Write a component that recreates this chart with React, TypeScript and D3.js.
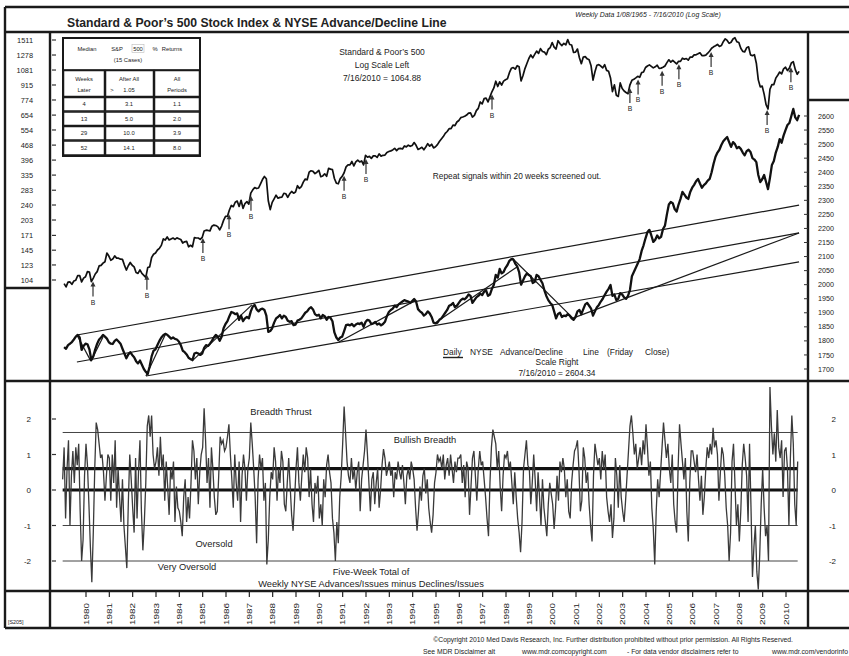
import { useEffect, useRef } from 'react'
import * as d3 from 'd3'

// S&P 500 monthly closes, Jan 1979 - Jul 2010 (a few weekly lows kept where the chart shows them)
const firstYear = 1979
const spxValues = [
  99.9, 96.3, 101.6, 101.8, 99.1, 102.9, 103.8, 109.3, 109.3, 101.8, 106.2, 107.9,
  114.2, 113.7, 102.1, 106.3, 111.2, 114.2, 121.7, 122.4, 125.5, 127.5, 140.5, 135.8,
  129.6, 131.3, 136.0, 132.8, 132.6, 131.2, 130.9, 122.8, 116.2, 121.9, 126.4, 122.6,
  120.4, 113.1, 112.0, 116.4, 111.9, 109.6, 107.1, 119.5, 120.4, 133.7, 138.5, 140.6,
  145.3, 148.1, 153.0, 164.4, 162.4, 168.1, 162.6, 164.4, 166.1, 163.6, 166.4, 164.9,
  163.4, 157.1, 159.2, 160.1, 150.6, 153.2, 150.7, 166.7, 166.1, 166.1, 163.6, 167.2,
  179.6, 181.2, 180.7, 179.8, 189.6, 191.9, 190.9, 188.6, 182.1, 189.8, 202.2, 211.3,
  211.8, 226.9, 238.9, 235.5, 247.4, 250.8, 236.1, 252.9, 231.3, 244.0, 249.2, 242.2,
  274.1, 284.2, 291.7, 288.4, 290.1, 304.0, 318.7, 329.8, 321.8, 251.8, 228.0, 247.1,
  257.1, 267.8, 258.9, 261.3, 262.2, 273.5, 272.0, 261.5, 271.9, 279.0, 273.7, 277.7,
  297.5, 288.9, 294.9, 309.6, 320.5, 318.0, 346.1, 351.5, 349.2, 340.4, 346.0, 353.4,
  329.1, 331.9, 339.9, 330.8, 361.2, 358.0, 356.2, 322.6, 306.1, 304.0, 322.2, 330.2,
  343.9, 367.1, 375.2, 375.3, 389.8, 371.2, 387.8, 395.4, 387.9, 392.5, 375.2, 417.1,
  408.8, 412.7, 403.7, 415.0, 415.4, 408.1, 424.2, 414.0, 417.8, 418.7, 431.4, 435.7,
  438.8, 443.4, 451.7, 440.2, 450.2, 451.0, 448.1, 463.6, 458.9, 467.8, 461.8, 466.5,
  481.6, 467.1, 445.8, 450.9, 456.5, 444.3, 458.3, 475.5, 462.7, 472.4, 453.7, 459.3,
  470.4, 487.4, 500.7, 514.7, 533.4, 544.8, 562.1, 561.9, 584.4, 581.5, 605.4, 615.9,
  636.0, 640.4, 645.5, 654.2, 669.1, 670.6, 640.0, 652.0, 687.3, 705.3, 757.0, 740.7,
  786.2, 790.8, 757.1, 801.3, 848.3, 885.1, 954.3, 899.5, 947.3, 914.6, 955.4, 970.4,
  980.3, 1049.3, 1101.8, 1111.8, 1090.8, 1133.8, 1120.7, 957.3, 1017.0, 1098.7, 1163.6, 1229.2,
  1279.6, 1238.3, 1286.4, 1335.2, 1301.8, 1372.7, 1328.7, 1320.4, 1282.7, 1362.9, 1388.9, 1469.3,
  1394.5, 1366.4, 1498.6, 1452.4, 1420.6, 1454.6, 1430.8, 1517.7, 1436.5, 1429.4, 1315.2, 1320.3,
  1366.0, 1239.9, 1160.3, 1249.5, 1255.8, 1224.4, 1211.2, 1133.6, 966.0, 1059.8, 1139.5, 1148.1,
  1130.2, 1106.7, 1147.4, 1076.9, 1067.1, 989.8, 850.0, 916.1, 815.3, 805.0, 936.3, 879.8,
  855.7, 841.2, 830.0, 916.9, 963.6, 974.5, 990.3, 1008.0, 996.0, 1050.7, 1058.2, 1111.9,
  1131.1, 1144.9, 1126.2, 1107.3, 1120.7, 1140.8, 1101.7, 1104.2, 1114.6, 1130.2, 1173.8, 1211.9,
  1181.3, 1203.6, 1180.6, 1156.9, 1191.5, 1191.3, 1234.2, 1220.3, 1228.8, 1207.0, 1249.5, 1248.3,
  1280.1, 1280.7, 1294.9, 1310.6, 1270.1, 1270.2, 1276.7, 1303.8, 1335.9, 1377.9, 1400.6, 1418.3,
  1438.2, 1406.8, 1420.9, 1482.4, 1530.6, 1503.4, 1455.3, 1474.0, 1526.8, 1549.4, 1481.1, 1468.4,
  1378.6, 1330.6, 1322.7, 1385.6, 1400.4, 1280.0, 1267.4, 1282.8, 1166.4, 968.8, 896.2, 903.3,
  825.9, 735.1, 700.0, 872.8, 919.1, 919.3, 987.5, 1020.6, 1057.1, 1036.2, 1095.6, 1115.1,
  1073.9, 1104.5, 1169.4, 1186.7, 1089.4, 1030.7, 1064.88,
]

// NYSE advance/decline line, monthly readings off the right scale
const adValues = [
  1778, 1772, 1785, 1790, 1796, 1805, 1815, 1821, 1812, 1768, 1782, 1790,
  1788, 1770, 1732, 1745, 1770, 1790, 1805, 1812, 1821, 1815, 1808, 1795,
  1790, 1789, 1800, 1805, 1798, 1790, 1772, 1755, 1738, 1752, 1760, 1750,
  1742, 1728, 1720, 1730, 1715, 1700, 1690, 1682, 1710, 1745, 1765, 1770,
  1785, 1800, 1812, 1820, 1825, 1822, 1815, 1808, 1812, 1807, 1805, 1798,
  1785, 1765, 1760, 1752, 1740, 1735, 1732, 1755, 1758, 1755, 1750, 1755,
  1775, 1785, 1782, 1790, 1800, 1812, 1821, 1815, 1800, 1815, 1845, 1860,
  1870, 1888, 1903, 1900, 1895, 1898, 1875, 1890, 1870, 1880, 1885, 1880,
  1905, 1922, 1928, 1912, 1905, 1912, 1915, 1910, 1890, 1832, 1835, 1845,
  1865, 1880, 1885, 1892, 1880, 1890, 1885, 1872, 1868, 1870, 1856, 1858,
  1872, 1875, 1880, 1890, 1900, 1905, 1915, 1920, 1912, 1895, 1890, 1893,
  1880, 1892, 1888, 1875, 1885, 1882, 1870, 1830, 1812, 1803, 1812, 1815,
  1835, 1856, 1858, 1855, 1860, 1852, 1858, 1862, 1860, 1865, 1850, 1867,
  1875, 1872, 1860, 1862, 1867, 1858, 1862, 1855, 1860, 1868, 1888, 1903,
  1910, 1915, 1925, 1920, 1930, 1935, 1940, 1945, 1942, 1940, 1935, 1942,
  1949, 1940, 1913, 1905, 1900, 1890, 1895, 1905, 1898, 1885, 1865, 1862,
  1865, 1875, 1880, 1890, 1900, 1910, 1925, 1928, 1935, 1920, 1925, 1935,
  1945, 1950, 1948, 1955, 1965, 1960, 1935, 1945, 1955, 1960, 1968, 1963,
  1975, 1980, 1960, 1965, 1985, 2000, 2035, 2025, 2056, 2040, 2045, 2060,
  2070, 2085, 2091, 2090, 2075, 2065, 2045, 2000, 2015, 2030, 2040, 2034,
  2030, 2006, 2010, 2035, 2030, 2017, 2005, 1980, 1960, 1945, 1935, 1928,
  1905, 1880, 1896, 1900, 1885, 1890, 1888, 1895, 1890, 1880, 1875, 1885,
  1905, 1910, 1895, 1913, 1930, 1935, 1925, 1915, 1890, 1905, 1920, 1928,
  1940, 1950, 1963, 1975, 1985, 1999, 1960, 1965, 1945, 1950, 1970, 1965,
  1955, 1950, 1960, 1981, 2030, 2045, 2060, 2075, 2091, 2120, 2140, 2165,
  2187, 2195, 2175, 2152, 2160, 2175, 2165, 2170, 2198, 2210, 2250, 2285,
  2294, 2290, 2269, 2260, 2285, 2305, 2330, 2320, 2310, 2305, 2330, 2345,
  2355, 2368, 2376, 2360, 2345, 2354, 2360, 2370, 2376, 2400, 2430, 2455,
  2470, 2480, 2497, 2510, 2518, 2525, 2507, 2490, 2507, 2500, 2485, 2490,
  2483, 2470, 2460, 2475, 2480, 2472, 2450, 2445, 2436, 2390, 2365, 2375,
  2390, 2365, 2340, 2380, 2426, 2440, 2470, 2490, 2518, 2505, 2530, 2550,
  2568, 2575, 2600, 2625, 2595, 2585, 2604.34,
]

// five-week total of weekly (advances - declines) / issues, 16 readings a year
const breadthPerYear = 16
const breadthValues = [
  0.3, 1.2, -0.8, 0.6, 1.4, -1.0, 0.4, 1.1, 0.2, 1.2, 0.7, 1.3, -0.6, -2.0, -1.4, 0.4,
  1.3, 0.7, -0.4, -1.6, -2.6, -1.2, 0.6, 1.9, 1.7, 1.3, 0.9, 1.0, 0.5, -0.3, 0.4, 1.0,
  0.9, -0.3, 1.0, 0.2, 1.4, -0.5, 0.6, -0.2, -0.9, 0.3, -1.0, -1.6, -2.2, -0.4, 1.0, 0.3,
  -0.5, -1.2, 0.9, -0.8, 0.5, 1.4, -0.6, -1.7, -0.9, 0.2, 1.8, 2.1, 1.5, 2.1, 1.0, 0.6,
  0.8, 1.2, 0.4, 1.5, 0.6, 1.0, -0.3, 0.8, 0.1, -0.7, 0.6, 0.3, 0.8, -0.9, 0.1, -0.5,
  -0.6, -0.9, -1.3, -0.2, 0.3, -0.9, -0.2, -0.8, 0.2, 1.4, 1.1, 0.3, 0.9, -0.4, 0.5, 1.0,
  1.2, 2.3, 1.4, 0.2, 0.9, -0.5, 1.2, 0.6, -0.2, -0.7, -0.6, 0.4, 1.5, 1.3, 1.4, 1.1,
  1.2, 1.5, 1.85, 1.0, 0.3, -0.5, 1.0, 0.2, -0.3, 0.8, -0.9, 0.4, 1.0, 0.6, -0.3, 0.6,
  0.9, 1.9, 1.3, 0.6, -0.2, -1.5, 0.3, 1.0, 0.6, 0.9, -0.3, 0.2, -2.1, -1.4, -0.2, 0.5,
  0.3, 1.2, 0.8, -0.3, 0.6, 0.2, 1.1, 0.8, -0.4, -0.6, 0.2, 0.9, 0.1, -0.7, -1.15, -0.3,
  0.6, 1.2, 0.2, -0.3, 0.4, 1.0, 0.5, 1.2, 0.9, -0.2, 0.6, -0.4, -0.9, 0.2, -0.1, 0.4,
  -0.8, -0.4, -1.0, 0.3, -0.2, 0.7, 1.0, 0.5, 0.2, -0.8, -1.2, -2.0, -0.9, -1.5, -0.2, 0.4,
  1.3, 2.35, 1.6, 0.8, 0.4, 0.2, 0.9, 0.3, 0.6, 0.0, 0.5, 0.8, -0.6, 0.3, 0.7, 1.1,
  1.7, 1.0, 0.2, -0.6, 0.3, 0.5, -0.4, 0.2, 0.6, -0.5, 0.0, 0.7, 1.15, 0.9, 0.4, 0.6,
  0.8, 0.4, 0.6, -0.2, 0.5, 0.3, 0.8, 0.5, 0.3, 0.7, 0.2, -0.4, 0.4, 0.6, 0.3, 0.8,
  0.6, 0.3, -0.5, -1.15, -0.6, 0.1, -0.3, 0.4, 0.6, -0.1, 0.3, -0.5, -0.9, -1.2, -0.7, 0.2,
  0.5, 1.0, 0.8, 0.9, 0.6, 1.0, 0.3, 0.7, 0.9, 0.4, 1.0, 0.6, 0.2, 0.8, 0.5, 0.9,
  0.9, 1.0, 0.2, 0.7, -0.2, 0.8, 0.6, -0.7, 0.1, 0.9, 1.1, 0.4, -0.3, 0.6, 1.1, 0.7,
  0.8, 0.3, -0.2, -0.8, -1.3, 0.2, 1.2, 1.7, 1.5, 1.3, 0.6, 1.1, 0.1, -0.6, 0.4, 1.0,
  0.9, 1.1, 0.6, 0.8, 0.2, -0.4, 0.5, -0.2, -0.8, -1.2, -1.75, -0.9, 0.6, 1.0, 1.4, 0.7,
  0.6, -0.4, 0.2, 1.0, 0.3, -0.6, 0.5, -0.2, -1.0, 0.3, -0.5, -0.9, -1.3, -0.4, 0.2, -0.1,
  -0.4, -1.1, -0.5, 0.4, -0.3, 0.8, 0.5, 0.9, 0.6, -0.2, 0.3, -0.6, -0.8, 0.2, 0.7, 1.1,
  1.2, 1.4, 0.6, -0.6, -0.3, 1.2, 0.9, 0.2, 0.5, -0.4, -1.0, -1.45, 0.4, 1.3, 1.0, 0.7,
  0.9, 0.3, 1.1, 0.6, 1.0, -0.2, -0.6, -0.9, -0.4, -1.35, -0.8, 0.9, 0.4, -0.5, 0.7, -0.2,
  -0.6, -0.9, -0.3, 0.4, 1.1, 1.8, 2.1, 1.6, 1.0, 1.3, 0.6, 0.9, 1.2, 0.7, 1.4, 1.0,
  1.85, 1.2, 0.4, 0.8, -0.5, -1.1, -2.1, -0.6, 0.3, -0.2, 0.5, 1.2, 1.9, 1.4, 0.9, 1.3,
  0.6, 0.2, 1.0, -0.4, -0.9, -1.2, 0.6, 1.85, 1.3, 0.8, 0.3, 0.9, -0.6, -1.45, 0.2, 1.1,
  1.1, 0.8, 0.5, 1.0, 0.3, -0.3, 0.4, -0.7, -0.2, 0.6, 1.2, 0.9, 1.3, 1.0, 1.75, 1.2,
  1.4, 1.0, -0.3, 0.5, 1.2, 1.0, 0.4, -0.5, -1.0, -2.0, -1.2, 0.8, 1.3, 0.2, -1.0, -0.4,
  -1.45, -0.6, 0.7, 1.3, 0.9, 0.4, -0.9, 1.3, -0.5, -2.45, -1.6, -1.0, -2.3, -2.8, -1.8, -0.4,
  0.6, -0.5, -1.3, -1.0, -2.0, 2.9, 1.8, 1.0, 1.6, 0.8, 2.25, 1.2, 0.9, 1.4, -0.2, 1.1,
  1.2, 0.6, -1.0, 0.9, 2.1, 1.3, -0.4, -1.0, 0.8,
]

// weeks with a breadth-thrust buy signal
const buySignals = [1980.30, 1982.61, 1985.01, 1986.13, 1987.07, 1991.06, 1992.0, 1997.40, 2003.31, 2003.66, 2004.69, 2005.41, 2006.79, 2009.19, 2010.21]

// A/D channel and trend lines: [from year, from value, to year, to value]
const adTrendLines = [
  [1979.61, 1821, 2010.56, 2283],
  [1979.61, 1725, 2010.56, 2184],
  [1982.57, 1675, 2010.56, 2081],
  [2000.87, 1881, 2010.56, 2184],
  [1998.26, 2095, 2000.87, 1881],
  [1994.96, 1864, 1998.47, 2063],
  [1990.84, 1796, 1994.14, 1945],
  [1979.61, 1821, 1980.21, 1728],
  [1980.21, 1728, 1980.73, 1814],
  [1982.57, 1675, 1983.43, 1828],
  [1984.54, 1728, 1987.11, 1928],
]

const spxTicks = [1511, 1278, 1081, 915, 774, 654, 554, 468, 396, 335, 283, 240, 203, 171, 145, 123, 104]
const adTicks = [2600, 2550, 2500, 2450, 2400, 2350, 2300, 2250, 2200, 2150, 2100, 2050, 2000, 1950, 1900, 1850, 1800, 1750, 1700]
const breadthTicks = [2, 1, 0, -1, -2]
const breadthLevels = [1.62, 0.6, 0, -1, -2]
const yearTicks = d3.range(1980, 2011)

const tableRows = [
  ['4', '3.1', '1.1'],
  ['13', '5.0', '2.0'],
  ['29', '10.0', '3.9'],
  ['52', '14.1', '8.0'],
]

const FONT = '"Liberation Sans", Arial, Helvetica, sans-serif'

export default function App() {
  const svgRef = useRef<SVGSVGElement>(null)

  useEffect(() => {
    const svg = d3.select(svgRef.current)
    svg.selectAll('*').remove()

    svg.attr('width', 849).attr('height', 656).style('font-family', FONT)
    svg.append('rect').attr('width', 849).attr('height', 656).attr('fill', '#fff')

    // Scales
    const x = d3.scaleLinear().domain([1980, 2010]).range([86, 786])
    const ySpx = d3.scaleLog().domain([104, 1511]).range([280, 40])
    const yAd = d3.scaleLinear().domain([1700, 2600]).range([369, 116])
    const yBr = d3.scaleLinear().domain([-2, 2]).range([561, 419])

    const monthT = (i: number) => firstYear + (i + 0.75) / 12
    const breadthT = (i: number) => firstYear + i / breadthPerYear

    const spxAt = (t: number) => {
      const f = (t - firstYear) * 12 - 0.75
      const i = Math.max(0, Math.min(spxValues.length - 2, Math.floor(f)))
      const r = f - i
      return spxValues[i] * (1 - r) + spxValues[i + 1] * r
    }

    const text = (tx: number, ty: number, str: string, size: number, anchor = 'start') =>
      svg.append('text')
        .attr('x', tx)
        .attr('y', ty)
        .attr('font-size', size)
        .attr('text-anchor', anchor)
        .attr('fill', '#222')
        .text(str)

    // Frame
    const frame = [
      [5, 7, 849, 7], [5, 32, 849, 32], [5, 381, 849, 381], [5, 591, 849, 591], [5, 628, 849, 628],
      [5, 7, 5, 628], [50, 32, 50, 628], [808, 32, 808, 628], [5, 288, 50, 288], [808, 100, 849, 100],
    ]
    svg.selectAll('.frame')
      .data(frame)
      .enter()
      .append('line')
      .attr('x1', d => d[0]).attr('y1', d => d[1])
      .attr('x2', d => d[2]).attr('y2', d => d[3])
      .attr('stroke', '#1a1a1a')
      .attr('stroke-width', 2.4)

    // Title
    text(67, 27, 'Standard & Poor\u2019s 500 Stock Index & NYSE Advance/Decline Line', 12.2)
      .attr('font-weight', 'bold')
    text(648, 17, 'Weekly Data 1/08/1965 - 7/16/2010 (Log Scale)', 6.9, 'middle')
      .attr('font-style', 'italic')

    // Left log axis (S&P)
    spxTicks.forEach(v => {
      svg.append('line')
        .attr('x1', 52).attr('x2', 56)
        .attr('y1', ySpx(v)).attr('y2', ySpx(v))
        .attr('stroke', '#333').attr('stroke-width', 1.2)
      text(33, ySpx(v) + 2.6, String(v), 7.4, 'end')
    })

    // Right axis (A/D)
    adTicks.forEach(v => {
      svg.append('line')
        .attr('x1', 804).attr('x2', 808)
        .attr('y1', yAd(v)).attr('y2', yAd(v))
        .attr('stroke', '#333').attr('stroke-width', 1)
      text(818, yAd(v) + 2.6, String(v), 7.2)
    })

    // Table of returns
    const table = svg.append('g').attr('fill', 'none').attr('stroke', '#1a1a1a')
    table.append('rect').attr('x', 63).attr('y', 38).attr('width', 137).attr('height', 118).attr('stroke-width', 2)
    table.append('rect').attr('x', 63).attr('y', 38).attr('width', 137).attr('height', 32).attr('stroke-width', 1.6)
    const colX = [63, 105, 154, 200]
    const rowY = [70, 97, 111.5, 126, 140.5, 155.5]
    for (let r = 0; r < rowY.length - 1; r++) {
      for (let c = 0; c < 3; c++) {
        table.append('rect')
          .attr('x', colX[c] + 0.5).attr('y', rowY[r] + 0.5)
          .attr('width', colX[c + 1] - colX[c] - 1).attr('height', rowY[r + 1] - rowY[r] - 1)
          .attr('stroke-width', 1.5)
      }
    }
    table.append('rect').attr('x', 132).attr('y', 44.5).attr('width', 12).attr('height', 8)
      .attr('stroke', '#bbb').attr('stroke-width', 0.6)
    const tsize = 5.8
    text(87, 51, 'Median', tsize, 'middle')
    text(117, 51, 'S&P', tsize, 'middle')
    text(138, 51, '500', tsize, 'middle')
    text(155, 51, '%', tsize, 'middle')
    text(172, 51, 'Returns', tsize, 'middle')
    text(128, 62, '(15 Cases)', tsize, 'middle')
    text(84, 81, 'Weeks', tsize, 'middle')
    text(84, 92, 'Later', tsize, 'middle')
    text(129, 81, 'After All', tsize, 'middle')
    text(112, 92, '>', tsize, 'middle')
    text(129, 92, '1.05', tsize, 'middle')
    text(177, 81, 'All', tsize, 'middle')
    text(177, 92, 'Periods', tsize, 'middle')
    const colMid = [84, 129, 177]
    tableRows.forEach((row, r) => {
      row.forEach((cell, c) => {
        text(colMid[c], (rowY[r + 1] + rowY[r + 2]) / 2 + 2.2, cell, tsize, 'middle')
      })
    })

    // Upper panel notes
    text(382, 55, 'Standard & Poor\u2019s 500', 8.5, 'middle')
    text(382, 68, 'Log Scale Left', 8.5, 'middle')
    text(382, 81, '7/16/2010 = 1064.88', 8.5, 'middle')
    text(517, 179, 'Repeat signals within 20 weeks screened out.', 8.3, 'middle')
    text(443, 355, 'Daily', 8.4)
    svg.append('line').attr('x1', 443).attr('x2', 463).attr('y1', 357.5).attr('y2', 357.5)
      .attr('stroke', '#222').attr('stroke-width', 1.4)
    text(470, 355, 'NYSE', 8.4)
    text(500, 355, 'Advance/Decline', 8.4)
    text(583, 355, 'Line', 8.4)
    text(607, 355, '(Friday', 8.4)
    text(645, 355, 'Close)', 8.4)
    text(557, 365, 'Scale Right', 8.4, 'middle')
    text(557, 376, '7/16/2010 = 2604.34', 8.4, 'middle')

    // A/D trend lines
    svg.selectAll('.trend')
      .data(adTrendLines)
      .enter()
      .append('line')
      .attr('x1', d => x(d[0])).attr('y1', d => yAd(d[1]))
      .attr('x2', d => x(d[2])).attr('y2', d => yAd(d[3]))
      .attr('stroke', '#1a1a1a')
      .attr('stroke-width', 1.2)

    // A/D line
    const adLine = d3.line<number>()
      .x((d, i) => x(monthT(i)))
      .y(d => yAd(d))
    svg.append('path')
      .datum(adValues)
      .attr('d', adLine)
      .attr('fill', 'none')
      .attr('stroke', '#111')
      .attr('stroke-width', 2.3)
      .attr('stroke-linejoin', 'round')

    // S&P line
    const spxLine = d3.line<number>()
      .x((d, i) => x(monthT(i)))
      .y(d => ySpx(d))
    svg.append('path')
      .datum(spxValues)
      .attr('d', spxLine)
      .attr('fill', 'none')
      .attr('stroke', '#111')
      .attr('stroke-width', 1.7)
      .attr('stroke-linejoin', 'round')

    // Buy signal arrows
    buySignals.forEach(t => {
      const sx = x(t)
      const tip = ySpx(spxAt(t)) + 3
      svg.append('line')
        .attr('x1', sx).attr('x2', sx)
        .attr('y1', tip + 3).attr('y2', tip + 15)
        .attr('stroke', '#333').attr('stroke-width', 1.2)
      svg.append('path')
        .attr('d', `M${sx},${tip}L${sx - 2.5},${tip + 5}L${sx + 2.5},${tip + 5}Z`)
        .attr('fill', '#333')
      text(sx, tip + 23, 'B', 6.8, 'middle')
    })

    // Breadth panel levels
    const bx0 = x(breadthT(0))
    const bx1 = x(breadthT(breadthValues.length - 1))
    breadthLevels.forEach(v => {
      const heavy = v === 0 || v === 0.6
      svg.append('line')
        .attr('x1', bx0).attr('x2', bx1)
        .attr('y1', yBr(v)).attr('y2', yBr(v))
        .attr('stroke', heavy ? '#111' : '#444')
        .attr('stroke-width', heavy ? 3.2 : 1)
    })

    const brLine = d3.line<number>()
      .x((d, i) => x(breadthT(i)))
      .y(d => yBr(d))
    svg.append('path')
      .datum(breadthValues)
      .attr('d', brLine)
      .attr('fill', 'none')
      .attr('stroke', '#3a3a3a')
      .attr('stroke-width', 1.3)

    breadthTicks.forEach(v => {
      svg.append('line')
        .attr('x1', 52).attr('x2', 56)
        .attr('y1', yBr(v)).attr('y2', yBr(v))
        .attr('stroke', '#333').attr('stroke-width', 1.2)
      text(31, yBr(v) + 3, String(v), 8, 'end')
      text(836, yBr(v) + 3, String(v), 8, 'end')
    })

    text(281, 415, 'Breadth Thrust', 9.3, 'middle')
    text(425, 443, 'Bullish Breadth', 9.3, 'middle')
    text(214, 547, 'Oversold', 9.3, 'middle')
    text(187, 570, 'Very Oversold', 9.3, 'middle')
    text(371, 575, 'Five-Week Total of', 9.3, 'middle')
    text(371, 587, 'Weekly NYSE Advances/Issues minus Declines/Issues', 9.3, 'middle')

    // Year axis
    yearTicks.forEach(yr => {
      svg.append('line')
        .attr('x1', x(yr)).attr('x2', x(yr))
        .attr('y1', 591).attr('y2', 597)
        .attr('stroke', '#222').attr('stroke-width', 1.2)
      svg.append('text')
        .attr('transform', `translate(${x(yr) + 2.7},614) rotate(-90)`)
        .attr('text-anchor', 'middle')
        .attr('font-size', 7.6)
        .attr('textLength', 22)
        .attr('lengthAdjust', 'spacingAndGlyphs')
        .attr('fill', '#222')
        .text(String(yr))
    })
    text(8, 624, '[S205]', 5.4)

    // Footer
    text(793, 642, '\u00A9Copyright 2010 Med Davis Research, Inc. Further distribution prohibited without prior permission. All Rights Reserved.', 6.8, 'end')
    text(423, 654, 'See MDR Disclaimer alt', 6.8)
    text(522, 654, 'www.mdr.comcopyright.com', 6.8)
    text(627, 654, '- For data vendor disclaimers refer to', 6.8)
    text(772, 654, 'www.mdr.com/vendorinfo', 6.8)
  }, [])

  return (
    <svg ref={svgRef} style={{ position: 'absolute', left: 0, top: 0, display: 'block' }}></svg>
  )
}
